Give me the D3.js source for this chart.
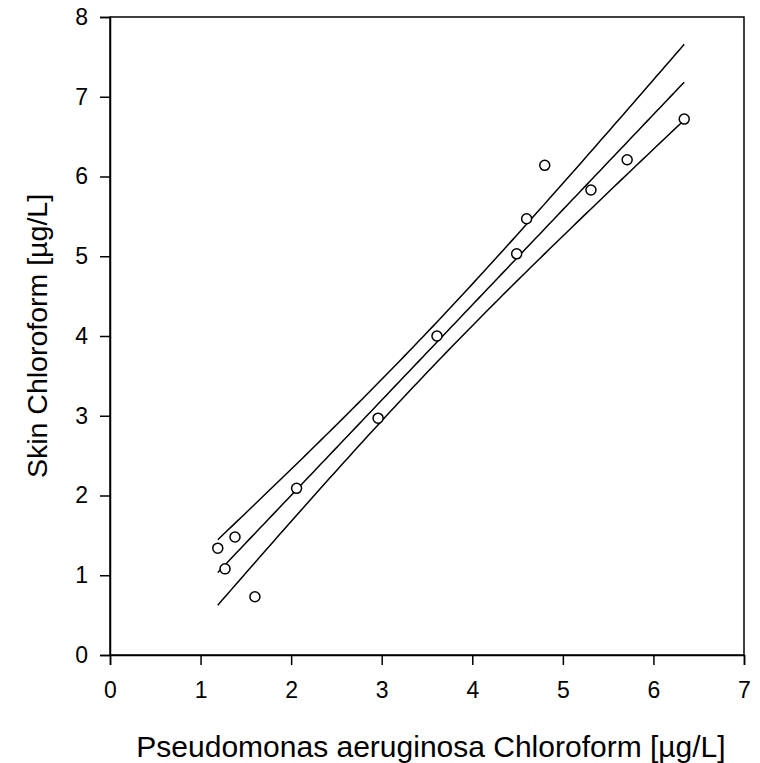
<!DOCTYPE html>
<html><head><meta charset="utf-8">
<script src="https://cdn.jsdelivr.net/npm/d3@7"></script>
<style>body{margin:0;background:#fff}svg{display:block}text{font-family:"Liberation Sans",Arial,sans-serif;fill:#000}</style>
</head><body>
<script>
const xValues = [1.19, 1.38, 1.27, 1.60, 2.06, 2.96, 3.61, 4.49, 4.60, 4.80, 5.31, 5.71, 6.34];
const yValues = [1.34, 1.48, 1.08, 0.73, 2.09, 2.97, 4.00, 5.03, 5.47, 6.14, 5.83, 6.21, 6.72];
const xTicks = [0,1,2,3,4,5,6,7];
const yTicks = [0,1,2,3,4,5,6,7,8];
const xTitle = "Pseudomonas aeruginosa Chloroform [µg/L]";
const yTitle = "Skin Chloroform [µg/L]";

const W = 760, H = 763;
const m = {left:110, right:16, top:17, bottom:108};
const svg = d3.select("body").append("svg").attr("width",W).attr("height",H);
const x = d3.scaleLinear().domain([0,7]).range([m.left, W-m.right]);
const y = d3.scaleLinear().domain([0,8]).range([H-m.bottom, m.top]);

// regression + 95% confidence band
const n = xValues.length;
const mx = d3.mean(xValues), my = d3.mean(yValues);
let sxx=0, sxy=0;
for (let i=0;i<n;i++){ sxx += (xValues[i]-mx)**2; sxy += (xValues[i]-mx)*(yValues[i]-my); }
const b = sxy/sxx, a = my - b*mx;
let sse=0; for (let i=0;i<n;i++){ sse += (yValues[i]-(a+b*xValues[i]))**2; }
const s = Math.sqrt(sse/(n-2));
const tcrit = 2.201;
const x0 = d3.min(xValues), x1 = d3.max(xValues);
const grid = d3.range(0,101).map(i => x0 + (x1-x0)*i/100);
const fit = grid.map(v => [v, a+b*v]);
const hw = v => tcrit*s*Math.sqrt(1/n + (v-mx)**2/sxx);
const upper = grid.map(v => [v, a+b*v+hw(v)]);
const lower = grid.map(v => [v, a+b*v-hw(v)]);
const line = d3.line().x(d=>x(d[0])).y(d=>y(d[1]));
[fit, upper, lower].forEach(d => svg.append("path").attr("d", line(d)).attr("fill","none").attr("stroke","#000").attr("stroke-width",1.5));

// frame
svg.append("rect").attr("x",x(0)).attr("y",y(8)).attr("width",x(7)-x(0)).attr("height",y(0)-y(8))
  .attr("fill","none").attr("stroke","#000").attr("stroke-width",1.5);

const xa = svg.append("g").attr("transform",`translate(0,${y(0)})`)
  .call(d3.axisBottom(x).tickValues(xTicks).tickFormat(d3.format("d")).tickSize(10).tickPadding(17));
const ya = svg.append("g").attr("transform",`translate(${x(0)},0)`)
  .call(d3.axisLeft(y).tickValues(yTicks).tickFormat(d3.format("d")).tickSize(10).tickPadding(12));
[xa,ya].forEach(g=>{
  g.attr("font-size",null).attr("font-family",null);
  g.select(".domain").attr("stroke","#000").attr("stroke-width",1.5);
  g.selectAll(".tick line").attr("stroke","#000").attr("stroke-width",1.5);
  g.selectAll(".tick text").style("font-size","23px").attr("fill","#000");
});

// points
svg.append("g").selectAll("circle").data(xValues.map((v,i)=>[v,yValues[i]])).join("circle")
  .attr("cx",d=>x(d[0])).attr("cy",d=>y(d[1])).attr("r",5)
  .attr("fill","#fff").attr("stroke","#000").attr("stroke-width",1.5);

svg.append("text").attr("x",(x(0)+x(7))/2+4).attr("y",757).attr("text-anchor","middle")
  .style("font-size","30px").text(xTitle);
svg.append("text").attr("transform",`translate(47,${(y(0)+y(8))/2}) rotate(-90)`).attr("text-anchor","middle")
  .style("font-size","28.5px").text(yTitle);
</script>
</body></html>
